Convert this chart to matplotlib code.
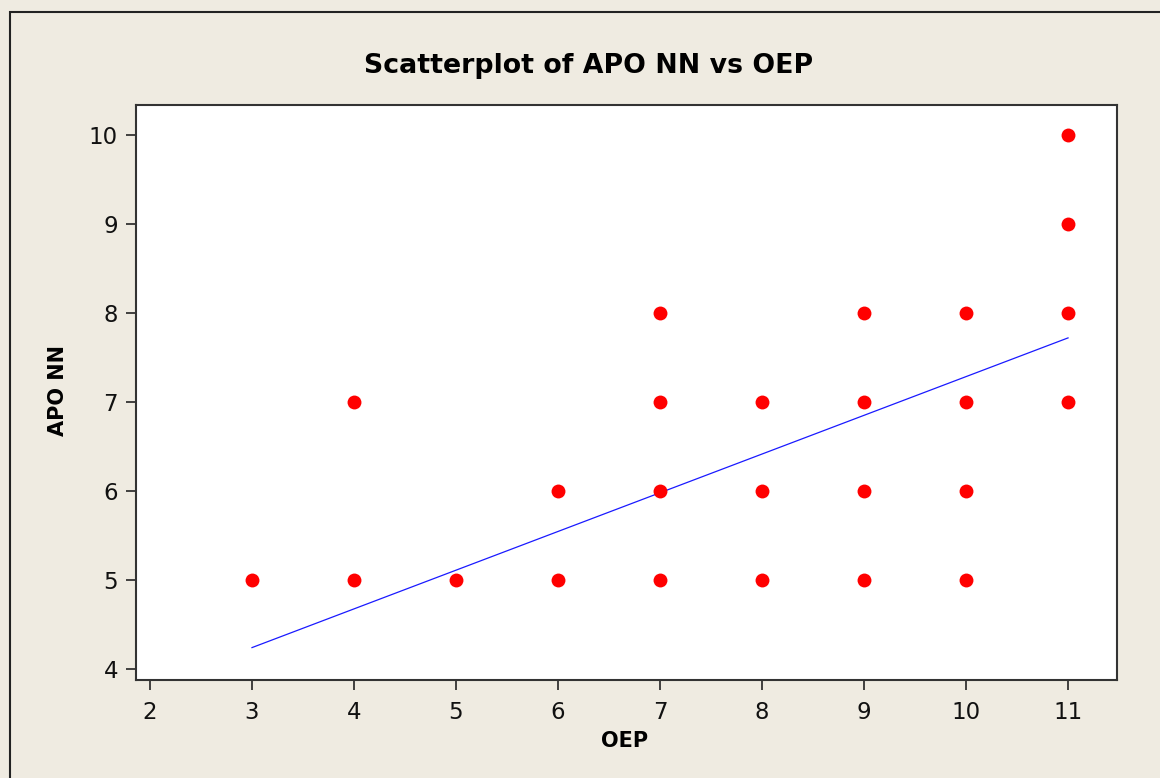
import matplotlib.pyplot as plt
from matplotlib.patches import Rectangle

# data
oep = [3, 4, 4, 5, 6, 6, 7, 7, 7, 7, 8, 8, 8, 9, 9, 9, 9, 10, 10, 10, 10, 11, 11, 11, 11]
apo_nn = [5, 5, 7, 5, 5, 6, 5, 6, 7, 8, 5, 6, 7, 5, 6, 7, 8, 5, 6, 7, 8, 7, 8, 9, 10]
fit_x = [3, 11]
fit_y = [4.24, 7.72]
x_ticks = [2, 3, 4, 5, 6, 7, 8, 9, 10, 11]
y_ticks = [4, 5, 6, 7, 8, 9, 10]

W, H = 1160, 778
bg = '#EFEBE1'
edge = '#333333'

fig = plt.figure(figsize=(W / 100, H / 100), dpi=100)
fig.patch.set_facecolor(bg)

# outer frame (left and top visible)
fig.add_artist(Rectangle((9.5 / W, -0.1), 1.2, 1 - 12 / H + 0.1,
                         transform=fig.transFigure, fill=False,
                         edgecolor='#222222', linewidth=1.5))

ax = fig.add_axes([136 / W, 1 - 680 / H, (1117 - 136) / W, (680 - 105) / H])
ax.set_facecolor('white')

ax.plot(fit_x, fit_y, color='#1a1aff', linewidth=0.9, zorder=2)
ax.plot(oep, apo_nn, 'o', color='#FF0000', markersize=10, markeredgewidth=0, zorder=3)

ax.set_xlim(1.863, 11.48)
ax.set_ylim(3.876, 10.337)
ax.set_xticks(x_ticks)
ax.set_yticks(y_ticks)
ax.tick_params(axis='both', direction='out', length=7, width=1.3, color=edge,
               labelsize=16.5, labelcolor='#111111')
ax.tick_params(axis='x', pad=8)
ax.tick_params(axis='y', pad=6)
for s in ax.spines.values():
    s.set_color(edge)
    s.set_linewidth(1.5)

fig.text(589 / W, 1 - 66 / H, 'Scatterplot of APO NN vs OEP', ha='center', va='center',
         fontsize=19.3, fontweight='bold', color='black')
fig.text(625 / W, 1 - 741 / H, 'OEP', ha='center', va='center',
         fontsize=15, fontweight='bold', color='black')
fig.text(58 / W, 1 - 391 / H, 'APO NN', ha='center', va='center', rotation=90,
         fontsize=15, fontweight='bold', color='black')

fig.savefig('out.png', dpi=100, facecolor=bg)
